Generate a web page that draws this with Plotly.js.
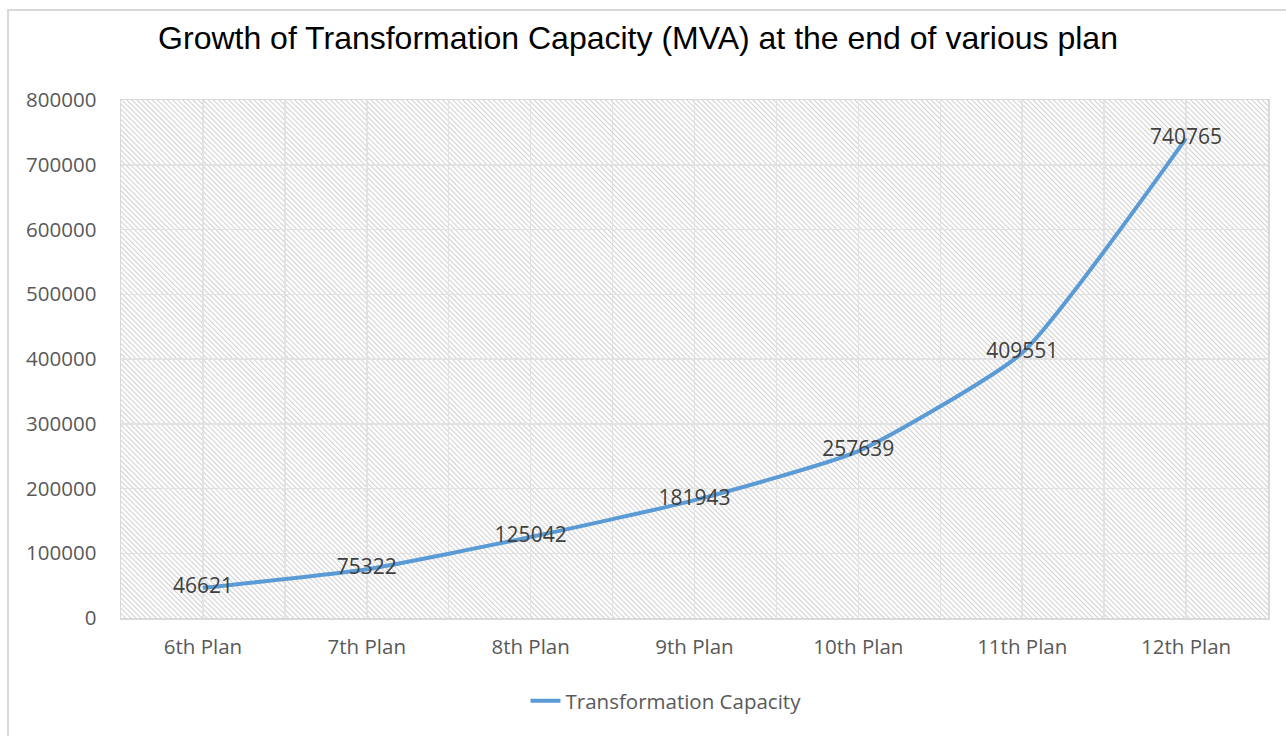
<!DOCTYPE html>
<html>
<head>
<meta charset="utf-8">
<script src="https://cdn.plot.ly/plotly-3.0.1.min.js"></script>
<style>html,body{margin:0;padding:0;background:#fff;}#chart{width:1286px;height:736px;}</style>
</head>
<body>
<div id="chart"></div>
<script>
const categories = ["6th Plan", "7th Plan", "8th Plan", "9th Plan", "10th Plan", "11th Plan", "12th Plan"];
const capacity = [46621, 75322, 125042, 181943, 257639, 409551, 740765];
const seriesName = "Transformation Capacity";
const yTicks = [0, 100000, 200000, 300000, 400000, 500000, 600000, 700000, 800000];

const W = 1286, H = 736;
const M = {l: 121, r: 18, t: 100, b: 118};
const PW = W - M.l - M.r, PH = H - M.t - M.b;
const px2x = p => (p - M.l) / PW;
const px2y = p => (H - M.b - p) / PH;

const hatch = 'data:image/svg+xml;utf8,' + encodeURIComponent(
  '<svg xmlns="http://www.w3.org/2000/svg" width="' + PW + '" height="' + PH + '">' +
  '<defs><pattern id="h" patternUnits="userSpaceOnUse" width="3.6" height="3.6" patternTransform="rotate(-45)">' +
  '<rect x="0" y="0" width="3.6" height="3.6" fill="#ffffff"/>' +
  '<rect x="0" y="0" width="1.1" height="3.6" fill="#d2d2d2"/></pattern></defs>' +
  '<rect width="100%" height="100%" fill="url(#h)"/></svg>');

const xIdx = categories.map((c, i) => i);

const trace = {
  x: xIdx,
  y: capacity,
  type: 'scatter',
  mode: 'lines+text',
  name: seriesName,
  text: capacity.map(String),
  textposition: 'middle center',
  textfont: {family: 'Open Sans, sans-serif', size: 21, color: '#404040'},
  line: {color: '#5B9BD5', width: 4, shape: 'spline', smoothing: 0.5},
  cliponaxis: false,
  hoverinfo: 'x+y'
};

const layout = {
  width: W, height: H,
  margin: M,
  paper_bgcolor: '#ffffff',
  plot_bgcolor: 'rgba(0,0,0,0)',
  title: {
    text: 'Growth of Transformation Capacity (MVA) at the end of various plan',
    font: {family: 'Liberation Sans, Arial, sans-serif', size: 32, color: '#000000'},
    xref: 'container', x: 638 / W, xanchor: 'center',
    yref: 'container', y: 1 - 38 / H, yanchor: 'middle'
  },
  xaxis: {
    range: [-0.5, categories.length - 0.5],
    tickvals: xIdx,
    ticktext: categories,
    showgrid: true, gridcolor: '#e2e2e2', gridwidth: 1.5,
    minor: {tick0: -0.5, dtick: 1, showgrid: true, gridcolor: '#e2e2e2', gridwidth: 1.5, ticks: ''},
    ticks: '',
    showline: true, linecolor: '#d9d9d9', linewidth: 1.5, mirror: true,
    zeroline: false,
    tickfont: {family: 'Open Sans, sans-serif', size: 20.5, color: '#595959'},
    ticklabelstandoff: 10,
    fixedrange: true
  },
  yaxis: {
    range: [0, 800000],
    tickvals: yTicks,
    ticktext: yTicks.map(String),
    showgrid: true, gridcolor: '#e2e2e2', gridwidth: 1.5,
    zeroline: false,
    ticks: '',
    showline: true, linecolor: '#d9d9d9', linewidth: 1.5, mirror: true,
    tickfont: {family: 'Open Sans, sans-serif', size: 20.5, color: '#595959'},
    ticklabelstandoff: 19,
    fixedrange: true
  },
  showlegend: true,
  legend: {
    orientation: 'h',
    x: px2x(666), xanchor: 'center',
    y: px2y(701), yanchor: 'middle',
    font: {family: 'Open Sans, sans-serif', size: 20.5, color: '#595959'},
    bgcolor: 'rgba(0,0,0,0)'
  },
  images: [{
    source: hatch,
    xref: 'paper', yref: 'paper',
    x: 0, y: 1, sizex: 1, sizey: 1,
    xanchor: 'left', yanchor: 'top',
    sizing: 'stretch', layer: 'below'
  }],
  shapes: [{
    type: 'path',
    xref: 'paper', yref: 'paper',
    path: 'M ' + px2x(8) + ' ' + px2y(740) + ' L ' + px2x(8) + ' ' + px2y(10) + ' L ' + px2x(1290) + ' ' + px2y(10),
    line: {color: '#d9d9d9', width: 2}
  }]
};

Plotly.newPlot('chart', [trace], layout, {displayModeBar: false, staticPlot: true});
</script>
</body>
</html>
